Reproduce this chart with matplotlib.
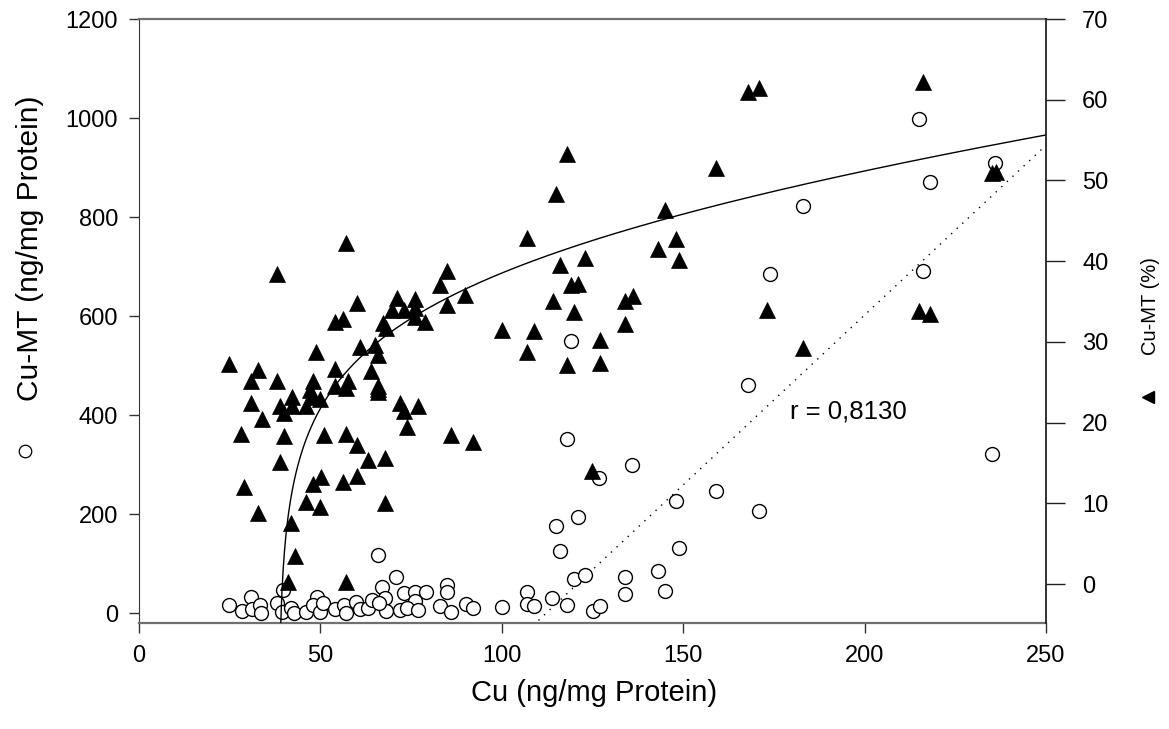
import numpy as np
import matplotlib
matplotlib.use("Agg")
import matplotlib.pyplot as plt
from matplotlib.lines import Line2D

plt.rcParams['font.family'] = ['Liberation Sans', 'DejaVu Sans']

# Cu-MT in ng/mg protein (open circles, left axis) against Cu
circ_cu = [24.9, 31.0, 28.3, 31.1, 33.4, 33.5, 38.0, 39.8, 39.3, 42.0,
           42.7, 45.9, 49.0, 48.0, 49.9, 50.8, 54.0, 56.5, 57.1, 59.9,
           60.9, 63.1, 64.3, 66.0, 67.1, 70.9, 67.9, 68.1, 66.2, 73.0,
           76.1, 79.1, 76.1, 71.9, 74.0, 77.0, 85.0, 85.0, 83.0, 86.0,
           90.0, 92.0, 100.0, 106.9, 106.9, 108.9, 113.7, 117.9, 125.1, 127.1,
           134.0, 134.0, 120.0, 123.0, 116.0, 114.9, 120.9, 126.9, 136.0, 117.9,
           119.0, 143.0, 145.0, 148.0, 148.9, 159.0, 167.9, 171.0, 173.9, 182.9,
           215.1, 216.0, 218.0, 235.9, 235.0]
circ_mt = [16, 33, 4, 8, 16, 1, 20, 47, 3, 10,
           0, 3, 33, 16, 3, 20, 8, 17, 0, 23,
           8, 10, 26, 117, 53, 73, 31, 4, 20, 40,
           43, 43, 25, 6, 11, 6, 56, 42, 14, 3,
           19, 10, 13, 43, 19, 14, 30, 16, 5, 14,
           38, 73, 69, 77, 126, 176, 195, 272, 300, 351,
           550, 86, 45, 227, 131, 247, 461, 207, 685, 823,
           999, 690, 871, 909, 321]

# Cu-MT as percent (filled triangles, right axis) against Cu
tri_cu = [24.9, 32.9, 31.0, 38.0, 48.0, 48.9, 54.0, 54.0, 54.0, 56.1,
          60.0, 60.9, 65.0, 66.0, 63.9, 57.7, 57.1, 66.0, 66.0, 66.0,
          47.1, 47.6, 49.9, 46.0, 42.1, 42.1, 39.0, 40.0, 31.0, 34.0,
          28.0, 40.0, 51.0, 57.1, 60.0, 63.0, 67.8, 71.9, 73.0, 77.0,
          74.0, 85.9, 92.0, 39.0, 50.1, 48.0, 56.1, 60.0, 28.9, 46.0,
          49.9, 67.9, 32.9, 41.9, 43.0, 41.0, 57.1, 67.2, 68.1, 69.7,
          73.0, 76.1, 76.1, 76.1, 78.8, 85.0, 57.1, 38.0, 85.0, 83.0,
          71.0, 89.9, 100.0, 109.0, 107.0, 114.0, 118.1, 114.9, 107.0, 116.0,
          123.0, 119.0, 121.1, 119.9, 134.0, 136.1, 134.0, 127.1, 117.9, 127.1,
          124.9, 145.1, 159.0, 148.0, 143.1, 148.9, 167.9, 171.0, 173.0, 182.9,
          216.0, 235.1, 236.2, 215.1, 218.0]
tri_pct = [27.2, 26.5, 25.2, 25.2, 25.2, 28.7, 26.6, 24.5, 32.5, 32.8,
           34.8, 29.4, 29.6, 28.4, 26.4, 25.2, 24.3, 24.5, 24.2, 23.8,
           24.0, 23.2, 22.9, 22.1, 23.2, 22.1, 22.1, 21.2, 22.4, 20.4,
           18.6, 18.3, 18.5, 18.6, 17.2, 15.4, 15.6, 22.4, 21.4, 22.1,
           19.5, 18.4, 17.6, 15.1, 13.2, 12.4, 12.6, 13.4, 12.0, 10.2,
           9.5, 10.0, 8.8, 7.6, 3.5, 0.2, 0.2, 32.3, 31.7, 33.9,
           33.9, 35.3, 34.2, 33.1, 32.4, 34.6, 42.2, 38.4, 38.8, 37.1,
           35.4, 35.8, 31.5, 31.4, 28.8, 35.1, 53.3, 48.3, 42.9, 39.5,
           40.4, 37.1, 37.2, 33.7, 35.1, 35.7, 32.2, 30.2, 27.1, 27.4,
           14.0, 46.3, 51.6, 42.7, 41.5, 40.1, 61.0, 61.5, 34.0, 29.2,
           62.2, 50.9, 51.1, 33.8, 33.5]

x_ticks = [0, 50, 100, 150, 200, 250]
left_ticks = [0, 200, 400, 600, 800, 1000, 1200]
right_ticks = [0, 10, 20, 30, 40, 50, 60, 70]

# linear regression of Cu-MT (ng/mg) on Cu
lin_slope = 6.86
lin_intercept = -770.0
r_text = "r = 0,8130"

# saturating fit of Cu-MT (%) on Cu: a*ln(x-x0) + c*(x-x0) + b
fit_x0 = 38.5
fit_a = 8.75
fit_c = 0.042
fit_b = -0.1

W, H = 1169, 729
fig = plt.figure(figsize=(W / 100, H / 100), dpi=100)
ax = fig.add_axes([139 / W, 1 - 623 / H, (1046 - 139) / W, (623 - 19) / H])
ax2 = ax.twinx()

ax.set_xlim(0, 250)
ax.set_ylim(-20, 1200)
ax2.set_ylim(-4.83, 70)

tick_fs = 17
ax.set_xticks(x_ticks)
ax.set_yticks(left_ticks)
ax2.set_yticks(right_ticks)
ax.tick_params(axis='both', direction='out', length=7, width=1.0,
               color='#333333', labelsize=tick_fs, pad=8)
ax.tick_params(axis='x', pad=9)
ax2.tick_params(axis='y', direction='out', length=14, width=1.0,
                color='#222222', labelsize=tick_fs, pad=12)

for side in ('top', 'bottom'):
    ax.spines[side].set_color('#707070')
    ax.spines[side].set_linewidth(1.6)
ax.spines['left'].set_color('#333333')
ax.spines['right'].set_visible(False)
for side in ('top', 'bottom', 'left'):
    ax2.spines[side].set_visible(False)
ax2.spines['right'].set_color('#111111')
ax2.spines['right'].set_linewidth(1.2)

# open circles: Cu-MT in ng/mg protein
ax.plot(circ_cu, circ_mt, linestyle='none', marker='o', markersize=10,
        markerfacecolor='white', markeredgecolor='black',
        markeredgewidth=1.0, zorder=3)

# dotted regression line
xl = np.linspace(0, 250, 400)
ax.plot(xl, lin_slope * xl + lin_intercept, color='black', lw=1.0,
        linestyle=(0, (1, 4.5)), zorder=2)

# filled triangles: Cu-MT in percent
ax2.plot(tri_cu, tri_pct, linestyle='none', marker='^', markersize=11.5,
         markerfacecolor='black', markeredgecolor='black',
         markeredgewidth=0.5, zorder=3)

# solid fitted curve
xf = np.linspace(fit_x0 + 0.02, 250, 1200)
uf = xf - fit_x0
ax2.plot(xf, fit_a * np.log(uf) + fit_c * uf + fit_b, color='black',
         lw=1.0, zorder=2)

ax.text(179.5, 408, r_text, fontsize=18.5, va='center', ha='left')

# axis titles with their symbol keys
fig.text(594 / W, 1 - 693 / H, "Cu (ng/mg Protein)", fontsize=21,
         ha='center', va='center')
fig.text(30 / W, 1 - 248 / H, "Cu-MT (ng/mg Protein)", fontsize=21.5,
         rotation=90, ha='center', va='center')
fig.add_artist(Line2D([25 / W], [1 - 451 / H], transform=fig.transFigure,
                      marker='o', markersize=9, markerfacecolor='white',
                      markeredgecolor='black', markeredgewidth=0.9,
                      linestyle='none'))
fig.text(1150 / W, 1 - 306 / H, "Cu-MT (%)", fontsize=14.5,
         rotation=90, ha='center', va='center')
fig.add_artist(Line2D([1148 / W], [1 - 397 / H], transform=fig.transFigure,
                      marker='<', markersize=8.5, markerfacecolor='black',
                      markeredgecolor='black', linestyle='none'))

fig.savefig("out.png", dpi=100)
